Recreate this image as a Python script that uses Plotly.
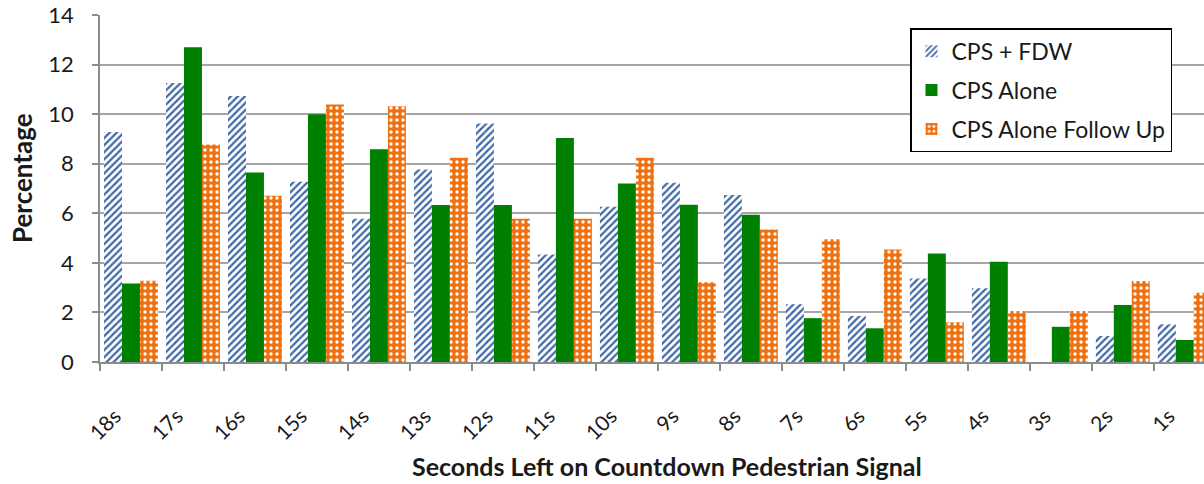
import plotly.graph_objects as go

categories = ["18s", "17s", "16s", "15s", "14s", "13s", "12s", "11s", "10s",
              "9s", "8s", "7s", "6s", "5s", "4s", "3s", "2s", "1s"]
cps_fdw = [9.28, 11.26, 10.73, 7.27, 5.78, 7.77, 9.62, 4.34, 6.26,
           7.23, 6.74, 2.33, 1.86, 3.37, 2.98, 0.0, 1.05, 1.52]
cps_alone = [3.17, 12.7, 7.65, 10.0, 8.58, 6.33, 6.33, 9.04, 7.2,
             6.34, 5.94, 1.77, 1.36, 4.38, 4.04, 1.42, 2.3, 0.89]
cps_follow = [3.28, 8.78, 6.71, 10.39, 10.32, 8.24, 5.78, 5.78, 8.24,
              3.22, 5.35, 4.95, 4.54, 1.6, 2.06, 2.06, 3.27, 2.79]
y_ticks = [0, 2, 4, 6, 8, 10, 12, 14]

FONT = "Lato, 'Open Sans', sans-serif"
TXT = "#1a1a1a"

fig = go.Figure()
fig.add_trace(go.Bar(
    x=categories, y=cps_fdw, name="CPS + FDW", legendgroup="a",
    marker=dict(color="white", line=dict(width=0),
                pattern=dict(shape="/", fgcolor="#3f68a6", bgcolor="white",
                             size=5, solidity=0.45, fillmode="replace")),
))
fig.add_trace(go.Bar(
    x=categories, y=cps_alone, name="CPS Alone", legendgroup="b",
    marker=dict(color="#008000", line=dict(width=0)),
))
fig.add_trace(go.Bar(
    x=categories, y=cps_follow, name="CPS Alone Follow Up", legendgroup="c",
    marker=dict(color="#f07010", line=dict(width=0),
                pattern=dict(shape=".", fgcolor="white", bgcolor="#f07010",
                             size=6, solidity=0.25, fillmode="replace")),
))

fig.update_layout(
    width=1204, height=484,
    margin=dict(l=100, r=0, t=15, b=122),
    paper_bgcolor="white", plot_bgcolor="white",
    barmode="group", bargap=0.13, bargroupgap=0,
    font=dict(family=FONT, size=21, color=TXT),
    showlegend=True,
    legend=dict(
        x=0.7337, y=0.962, xanchor="left", yanchor="top",
        bgcolor="white", bordercolor="black", borderwidth=1.5,
        font=dict(family=FONT, size=23, color=TXT),
        traceorder="grouped", tracegroupgap=6,
    ),
    xaxis=dict(
        type="category", range=[-0.5, 17.31],
        showline=True, linecolor="#8c8c8c", linewidth=1.5,
        ticks="outside", tickson="boundaries", ticklen=7, tickcolor="#8c8c8c",
        tickwidth=1.5,
        tickangle=-45, tickfont=dict(family=FONT, size=21, color=TXT),
        ticklabelstandoff=32, ticklabelshift=-16,
        showgrid=False, zeroline=False,
    ),
    yaxis=dict(
        range=[0, 14], tickvals=y_ticks,
        showline=True, linecolor="#8c8c8c", linewidth=1.5,
        ticks="outside", ticklen=6, tickcolor="#8c8c8c", tickwidth=1.5,
        showgrid=True, gridcolor="#a6a6a6", gridwidth=1.5,
        zeroline=False,
        tickfont=dict(family=FONT, size=22, color=TXT),
        ticklabelstandoff=14,
    ),
    annotations=[
        dict(text="<b>Seconds Left on Countdown Pedestrian Signal</b>",
             xref="paper", yref="paper", x=0.5136, y=-0.2997,
             xanchor="center", yanchor="middle", showarrow=False,
             font=dict(family=FONT, size=25, color=TXT)),
        dict(text="<b>Percentage</b>", textangle=-90,
             xref="paper", yref="paper", x=-0.0707, y=0.53,
             xanchor="center", yanchor="middle", showarrow=False,
             font=dict(family=FONT, size=26, color=TXT)),
    ],
)

fig.write_html("out.html",
               config={"displayModeBar": False},
               post_script="document.body.style.margin='0px';"
                           "document.body.style.overflow='hidden';")
